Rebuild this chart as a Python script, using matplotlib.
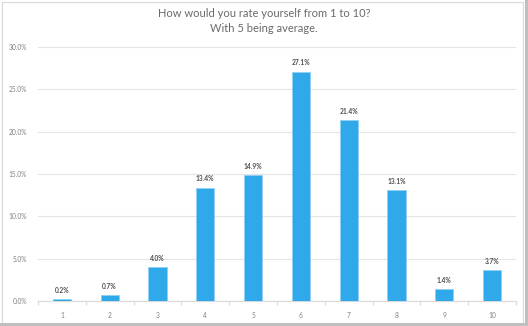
import matplotlib
matplotlib.use("Agg")
import matplotlib.pyplot as plt
from matplotlib.patches import Rectangle
from matplotlib.ticker import FixedLocator

categories = ["1", "2", "3", "4", "5", "6", "7", "8", "9", "10"]
values = [0.2, 0.7, 4.0, 13.4, 14.9, 27.1, 21.4, 13.1, 1.4, 3.7]
y_ticks = [0, 5, 10, 15, 20, 25, 30]
title = "How would you rate yourself from 1 to 10?\nWith 5 being average."

plt.rcParams['font.family'] = ['Lato', 'DejaVu Sans']

W, H = 528, 326
fig = plt.figure(figsize=(W / 100, H / 100), dpi=100)
fig.patch.set_facecolor("white")

left, right, top, bottom = 38, 516, 47, 301
ax = fig.add_axes([left / W, 1 - bottom / H, (right - left) / W, (bottom - top) / H])

x = list(range(len(categories)))
ax.bar(x, values, width=0.38, color="#2FA9E9", edgecolor="#8FD0F2", linewidth=0.6, zorder=3)
for xi, v in zip(x, values):
    ax.text(xi, v + 0.6, f"{v:.1f}%", ha="center", va="bottom", fontsize=4.8,
            fontweight="bold", color="#505050")

ax.set_xlim(-0.5, len(categories) - 0.5)
ax.set_ylim(0, 30)
ax.set_yticks(y_ticks)
ax.set_yticklabels([f"{t:.1f}%" for t in y_ticks], fontsize=4.8, color="#808080")
ax.set_xticks(x)
ax.set_xticklabels(categories, fontsize=4.8, color="#808080")
ax.tick_params(axis="x", which="major", length=0, pad=8)
ax.xaxis.set_minor_locator(FixedLocator([i + 0.5 for i in range(-1, len(categories))]))
ax.tick_params(axis="x", which="minor", length=3, color="#D9D9D9", width=0.8)
ax.tick_params(axis="y", length=0, pad=8)
ax.grid(axis="y", color="#E4E4E4", linewidth=0.8, zorder=0)
for s in ["top", "right", "left"]:
    ax.spines[s].set_visible(False)
ax.spines["bottom"].set_color("#D9D9D9")
ax.spines["bottom"].set_linewidth(0.8)
ax.set_facecolor("none")

fig.text(0.5, 1 - 21 / H, title, ha="center", va="center", fontsize=8,
         color="#6A6A6A", linespacing=1.55)

fig.patches.append(Rectangle((2 / W, 3 / H), 521 / W, 321 / H, transform=fig.transFigure,
                             fill=False, edgecolor="#D9D9D9", linewidth=0.8))
fig.patches.append(Rectangle((525 / W, 0), 3 / W, 1, transform=fig.transFigure,
                             color="#BFBFBF", linewidth=0))
fig.patches.append(Rectangle((0, 0), 1, 3 / H, transform=fig.transFigure,
                             color="#BFBFBF", linewidth=0))

fig.savefig("out.png", dpi=100, facecolor="white")
